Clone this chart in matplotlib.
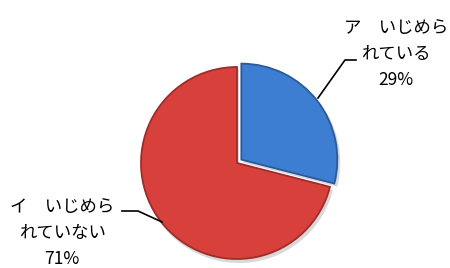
import matplotlib
matplotlib.use("Agg")
import matplotlib.pyplot as plt

plt.rcParams["font.family"] = ["Noto Sans CJK JP", "DejaVu Sans"]

# データ
labels = ["ア　いじめら\nれている\n29%", "イ　いじめら\nれていない\n71%"]
values = [29, 71]
colors = ["#3D7DD2", "#D8403C"]
edges = ["#2A5A9A", "#A02C2A"]
explode = [5.5, 0.0]   # pie の explode は絶対単位（ここではピクセル相当）

fig = plt.figure(figsize=(4.5, 2.68), dpi=100)
ax = fig.add_axes([0, 0, 1, 1])

# うっすら影
ax.pie(values, colors=["#d8d8d8", "#d8d8d8"], startangle=90, counterclock=False,
       explode=explode, center=(239, 102), radius=97,
       wedgeprops=dict(edgecolor="none"))
wedges, _ = ax.pie(values, colors=colors, startangle=90, counterclock=False,
                   explode=explode, center=(237, 105), radius=96,
                   wedgeprops=dict(edgecolor="none"))
for w, ec in zip(wedges, edges):
    w.set_edgecolor(ec)
    w.set_linewidth(1.3)

ax.set_xlim(0, 450)
ax.set_ylim(0, 268)
ax.set_aspect("equal")
ax.axis("off")

# ラベルと引き出し線
ax.text(396, 214, labels[0], ha="center", va="center", fontsize=12.5,
        linespacing=1.6)
ax.plot([318, 345, 356], [170, 208, 208], color="black", lw=1.2)

ax.text(62, 35, labels[1], ha="center", va="center", fontsize=12.5,
        linespacing=1.55)
ax.plot([162, 138, 122], [46, 57, 57], color="black", lw=1.2)

fig.savefig("out.png", dpi=100, facecolor="white")
